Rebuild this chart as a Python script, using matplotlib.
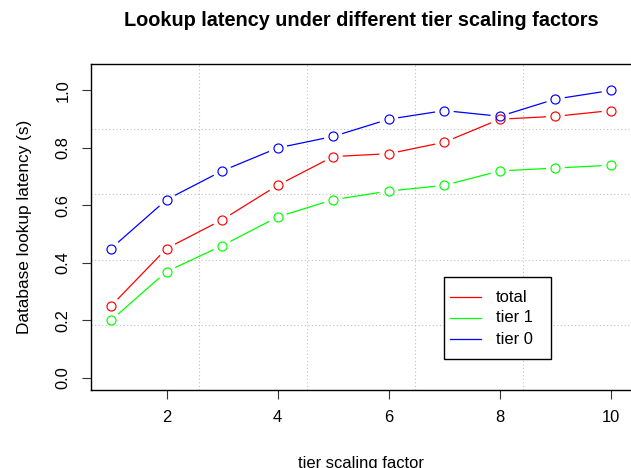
import numpy as np
import matplotlib
matplotlib.use("Agg")
import matplotlib.pyplot as plt
from matplotlib.patches import Rectangle
from matplotlib.lines import Line2D

plt.rcParams['font.family'] = ['Liberation Sans', 'DejaVu Sans']

# data
factors = [1, 2, 3, 4, 5, 6, 7, 8, 9, 10]
total = [0.25, 0.45, 0.55, 0.67, 0.77, 0.78, 0.82, 0.90, 0.91, 0.93]
tier1 = [0.20, 0.37, 0.46, 0.56, 0.62, 0.65, 0.67, 0.72, 0.73, 0.74]
tier0 = [0.45, 0.62, 0.72, 0.80, 0.84, 0.90, 0.93, 0.91, 0.97, 1.00]
series_names = ["total", "tier 1", "tier 0"]
series_colors = ["#FF0000", "#00FF00", "#0000FF"]
xticks = [2, 4, 6, 8, 10]
yticks = [0.0, 0.2, 0.4, 0.6, 0.8, 1.0]

W, H = 631, 468
fig = plt.figure(figsize=(W / 100, H / 100), dpi=100)
# plot region in pixels (R style: right edge runs off the picture)
L, R, T, B = 91, 631, 64, 390
ax = fig.add_axes([L / W, 1 - B / H, (R - L) / W, (B - T) / H])

# R-like 4% expansion
xlo, xhi = 1 - 0.36, 10 + 0.36
ylo, yhi = -0.042, 1.092
ax.set_xlim(xlo, xhi)
ax.set_ylim(ylo, yhi)

# dotted grid splitting the region into 5 x 5 cells
dots = (0, (1, 2.2))
for gx in np.linspace(xlo, xhi, 6)[1:-1]:
    ax.axvline(gx, color="#C0C0C0", ls=dots, lw=0.8, zorder=0)
for gy in np.linspace(ylo, yhi, 6)[1:-1]:
    ax.axhline(gy, color="#C0C0C0", ls=dots, lw=0.8, zorder=0)


def gapped(x, y, color, r=10.0):
    # lines with a gap around every point, like type="b"
    pts = ax.transData.transform(np.column_stack([x, y]))
    inv = ax.transData.inverted()
    for p0, p1 in zip(pts[:-1], pts[1:]):
        d = p1 - p0
        n = np.hypot(*d)
        if n <= 2 * r:
            continue
        u = d / n
        seg = inv.transform([p0 + u * r, p1 - u * r])
        ax.plot(seg[:, 0], seg[:, 1], color=color, lw=0.9)
    ax.plot(x, y, ls="none", marker="o", ms=6.5, mfc="none", mec=color, mew=0.85)


for vals, c in zip([total, tier1, tier0], series_colors):
    gapped(factors, vals, c)

fs = 11.9
ax.set_xticks(xticks)
ax.set_xticklabels([str(t) for t in xticks])
ax.set_yticks(yticks)
ax.set_yticklabels(["%.1f" % t for t in yticks], rotation=90, va="center")
ax.tick_params(length=6.5, width=0.8, labelsize=fs, color="#333333")
ax.tick_params(axis="x", pad=8)
ax.tick_params(axis="y", pad=8)
for s in ax.spines.values():
    s.set_linewidth(1.0)
ax.spines["right"].set_visible(False)

ax.set_xlabel("tier scaling factor", fontsize=fs, labelpad=22)
ax.set_ylabel("Database lookup latency (s)", fontsize=12.4, labelpad=17)
fig.text(361 / W, 1 - 21 / H, "Lookup latency under different tier scaling factors",
         ha="center", va="center", fontsize=14.3, fontweight="bold")

# legend box drawn in pixel coordinates like R's legend()
bx0, by0, bx1, by1 = 444, 277, 551, 359
fig.add_artist(Rectangle((bx0 / W, 1 - by1 / H), (bx1 - bx0) / W, (by1 - by0) / H,
                         transform=fig.transFigure, fill=True, fc="white",
                         ec="black", lw=1.0))
for i, (name, c) in enumerate(zip(series_names, series_colors)):
    yy = 1 - (297 + 21 * i) / H
    fig.add_artist(Line2D([450 / W, 481 / W], [yy, yy], transform=fig.transFigure,
                          color=c, lw=0.9))
    fig.text(496 / W, yy, name, ha="left", va="center", fontsize=fs)

fig.savefig("out.png", dpi=100)
